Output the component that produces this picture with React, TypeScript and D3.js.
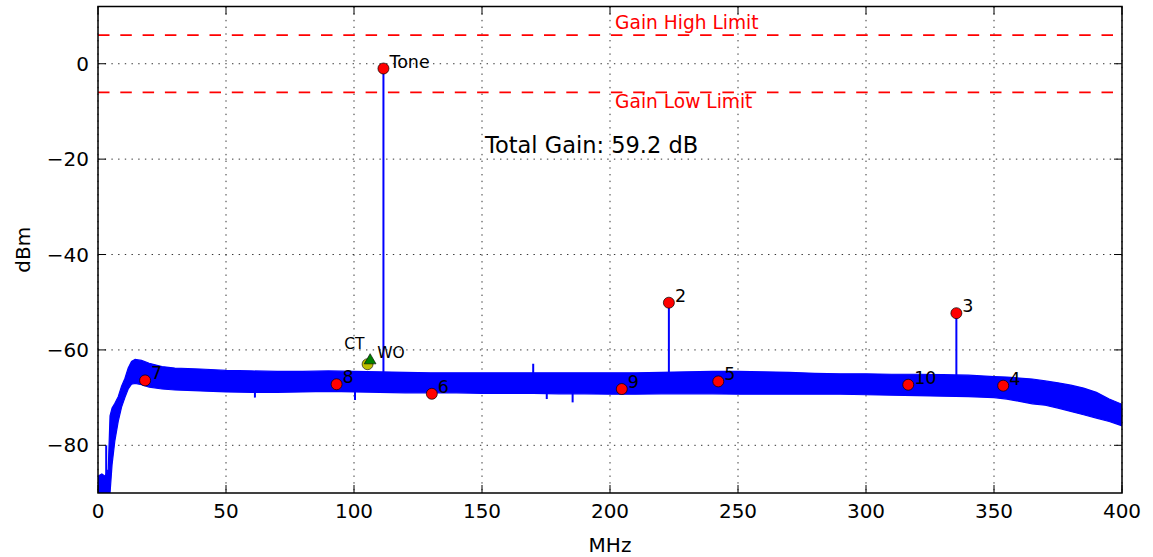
import React, { useEffect, useRef } from 'react';
import * as d3 from 'd3';

// spectrum noise floor envelope (MHz / dBm)
const bandFreq = [0, 1.5, 2.8, 4.0, 4.7, 5.5, 6.6, 7.9, 9.2, 10.5, 11.8, 13.1, 14.5, 17, 20, 25, 30, 35, 40, 50, 60, 70, 80, 90, 100, 110, 120, 130, 140, 150, 160, 170, 180, 190, 200, 210, 220, 230, 240, 250, 260, 270, 280, 290, 300, 310, 320, 330, 340, 350, 355, 360, 365, 370, 375, 380, 385, 390, 395, 400];
const bandHigh = [-86.5, -86, -86.5, -85, -73.8, -72.2, -71.2, -69.8, -67.6, -66, -63.8, -62.4, -62.0, -62.2, -62.8, -63.5, -63.8, -63.9, -64.0, -64.3, -64.4, -64.5, -64.5, -64.4, -64.5, -64.6, -64.7, -64.8, -64.8, -64.8, -64.8, -64.8, -64.8, -64.8, -64.8, -64.8, -64.7, -64.6, -64.5, -64.5, -64.6, -64.7, -64.9, -65.0, -65.0, -65.1, -65.1, -65.2, -65.3, -65.6, -65.7, -65.9, -66.1, -66.5, -66.9, -67.4, -68.0, -68.9, -70.3, -71.4];
const bandLow = [-92, -92, -92, -92, -90, -84, -79, -75, -72, -70, -68.2, -67.2, -67.0, -67.3, -67.8, -68.2, -68.4, -68.5, -68.6, -68.8, -68.9, -68.9, -68.8, -68.7, -68.8, -68.9, -69.0, -69.0, -69.0, -69.1, -69.1, -69.1, -69.2, -69.2, -69.3, -69.3, -69.2, -69.2, -69.2, -69.3, -69.3, -69.3, -69.3, -69.3, -69.4, -69.5, -69.6, -69.7, -69.8, -70.0, -70.3, -70.8, -71.3, -71.6, -72.2, -72.9, -73.6, -74.3, -75.0, -75.9];

// single bins sticking out of the floor
const spikeFreq = [3.2, 61.3, 100.4, 111.5, 170.0, 175.3, 185.4, 223.0, 335.3];
const spikeLevel = [-80, -70.0, -70.5, -1.0, -62.9, -70.3, -71.0, -50.1, -52.3];

// labelled peaks
const markerLabels = ['Tone', '2', '3', '4', '5', '6', '7', '8', '9', '10'];
const markerFreq = [111.5, 223.0, 335.3, 353.6, 242.3, 130.4, 18.4, 93.2, 204.6, 316.5];
const markerLevel = [-1.0, -50.1, -52.3, -67.5, -66.6, -69.2, -66.4, -67.2, -68.2, -67.3];

const woFreq = 106.3;
const woLevel = -62.0;
const ctFreq = 105.3;
const ctLevel = -63.0;

const gainLimits = [6, -6];
const gainLimitLabels = ['Gain High Limit', 'Gain Low Limit'];
const totalGainText = 'Total Gain: 59.2 dB';

const xTicks = [0, 50, 100, 150, 200, 250, 300, 350, 400];
const yTicks = [-80, -60, -40, -20, 0];

const App = () => {
  const svgRef = useRef<SVGSVGElement>(null);

  useEffect(() => {
    const svg = d3.select(svgRef.current);
    const width = 1153;
    const height = 557;
    const left = 98, right = 1122, top = 6.5, bottom = 493;
    const font = 'DejaVu Sans, sans-serif';

    const x = d3.scaleLinear().domain([0, 400]).range([left, right]);
    const y = d3.scaleLinear().domain([-90, 12]).range([bottom, top]);

    svg.attr('width', width).attr('height', height);

    svg.append('defs').append('clipPath').attr('id', 'plot-clip')
      .append('rect').attr('x', left).attr('y', top)
      .attr('width', right - left).attr('height', bottom - top);

    // grid
    const grid = svg.append('g');
    grid.selectAll('.gx').data(xTicks).enter().append('line')
      .attr('x1', (d) => x(d)).attr('x2', (d) => x(d))
      .attr('y1', top).attr('y2', bottom)
      .attr('stroke', '#333').attr('stroke-width', 1).attr('stroke-dasharray', '1.4,5.3');
    grid.selectAll('.gy').data(yTicks).enter().append('line')
      .attr('x1', left).attr('x2', right)
      .attr('y1', (d) => y(d)).attr('y2', (d) => y(d))
      .attr('stroke', '#333').attr('stroke-width', 1).attr('stroke-dasharray', '1.4,5.3');

    const plot = svg.append('g').attr('clip-path', 'url(#plot-clip)');

    // gain limits
    plot.selectAll('.lim').data(gainLimits).enter().append('line')
      .attr('x1', left).attr('x2', right)
      .attr('y1', (d) => y(d)).attr('y2', (d) => y(d))
      .attr('stroke', '#ff0000').attr('stroke-width', 1.8).attr('stroke-dasharray', '11.5,10.8');

    // noise floor
    const band = bandFreq.map((f, i) => ({ f, hi: bandHigh[i], lo: bandLow[i] }));
    const area = d3.area<{ f: number; hi: number; lo: number }>()
      .x((d) => x(d.f)).y0((d) => y(d.lo)).y1((d) => y(d.hi));
    plot.append('path').datum(band).attr('d', area)
      .attr('fill', '#0000ff').attr('stroke', '#0000ff').attr('stroke-width', 1.2);

    const mid = (f: number) => {
      const i = Math.min(d3.bisector((d: number) => d).left(bandFreq, f), bandFreq.length - 1);
      return (bandHigh[i] + bandLow[i]) / 2;
    };
    plot.selectAll('.spike').data(spikeFreq).enter().append('line')
      .attr('x1', (d) => x(d)).attr('x2', (d) => x(d))
      .attr('y1', (d, i) => y(spikeLevel[i])).attr('y2', (d) => y(mid(d)))
      .attr('stroke', '#0000ff').attr('stroke-width', 2);

    // markers
    plot.append('circle').attr('cx', x(ctFreq)).attr('cy', y(ctLevel)).attr('r', 5.5)
      .attr('fill', '#bfbf00').attr('stroke', '#000').attr('stroke-width', 0.6);
    plot.append('path').attr('d', d3.symbol().type(d3.symbolTriangle).size(60)())
      .attr('transform', `translate(${x(woFreq)},${y(woLevel) + 1})`)
      .attr('fill', '#008000').attr('stroke', '#000').attr('stroke-width', 0.6);

    plot.selectAll('.mk').data(markerFreq).enter().append('circle')
      .attr('cx', (d) => x(d)).attr('cy', (d, i) => y(markerLevel[i])).attr('r', 5.5)
      .attr('fill', '#ff0000').attr('stroke', '#000').attr('stroke-width', 0.7);

    // annotations
    const ann = svg.append('g').attr('font-family', font);
    ann.selectAll('.ml').data(markerLabels).enter().append('text')
      .attr('x', (d, i) => x(markerFreq[i]) + 6).attr('y', (d, i) => y(markerLevel[i]) - 1)
      .attr('font-size', 17.5).attr('fill', '#000').text((d) => d);
    ann.append('text').attr('x', x(woFreq) + 7).attr('y', y(woLevel) - 1)
      .attr('font-size', 15.5).text('WO');
    ann.append('text').attr('x', x(ctFreq) - 3).attr('y', y(ctLevel) - 15)
      .attr('text-anchor', 'end').attr('font-size', 15.5).text('CT');

    ann.selectAll('.gl').data(gainLimitLabels).enter().append('text')
      .attr('x', x(202)).attr('y', (d, i) => y(gainLimits[i]) + (i === 0 ? -6 : 16))
      .attr('font-size', 18.6).attr('fill', '#ff0000').text((d) => d);

    ann.append('text').attr('x', x(151.2)).attr('y', y(-18.8))
      .attr('font-size', 22.5).attr('fill', '#000').text(totalGainText);

    // frame and ticks
    const axes = svg.append('g');
    axes.append('rect').attr('x', left).attr('y', top)
      .attr('width', right - left).attr('height', bottom - top)
      .attr('fill', 'none').attr('stroke', '#000').attr('stroke-width', 1.5);
    const tl = 8;
    xTicks.forEach((t) => {
      axes.append('line').attr('x1', x(t)).attr('x2', x(t)).attr('y1', bottom).attr('y2', bottom - tl).attr('stroke', '#000');
      axes.append('line').attr('x1', x(t)).attr('x2', x(t)).attr('y1', top).attr('y2', top + tl).attr('stroke', '#000');
    });
    yTicks.forEach((t) => {
      axes.append('line').attr('x1', left).attr('x2', left + tl).attr('y1', y(t)).attr('y2', y(t)).attr('stroke', '#000');
      axes.append('line').attr('x1', right).attr('x2', right - tl).attr('y1', y(t)).attr('y2', y(t)).attr('stroke', '#000');
    });

    axes.selectAll('.xl').data(xTicks).enter().append('text')
      .attr('x', (d) => x(d)).attr('y', 518).attr('text-anchor', 'middle')
      .attr('font-family', font).attr('font-size', 20).text((d) => String(d));
    axes.selectAll('.yl').data(yTicks).enter().append('text')
      .attr('x', 89).attr('y', (d) => y(d)).attr('dy', '0.35em').attr('text-anchor', 'end')
      .attr('font-family', font).attr('font-size', 20).text((d) => (d < 0 ? '\u2212' + Math.abs(d) : String(d)));

    axes.append('text').attr('x', (left + right) / 2).attr('y', 552).attr('text-anchor', 'middle')
      .attr('font-family', font).attr('font-size', 20).text('MHz');
    axes.append('text').attr('transform', `translate(30,${(top + bottom) / 2}) rotate(-90)`)
      .attr('text-anchor', 'middle').attr('font-family', font).attr('font-size', 20).text('dBm');

    return () => {
      svg.selectAll('*').remove();
    };
  }, []);

  return (
    <svg ref={svgRef} style={{ position: 'absolute', left: 0, top: 0, background: '#fff' }}></svg>
  );
};

export default App;
